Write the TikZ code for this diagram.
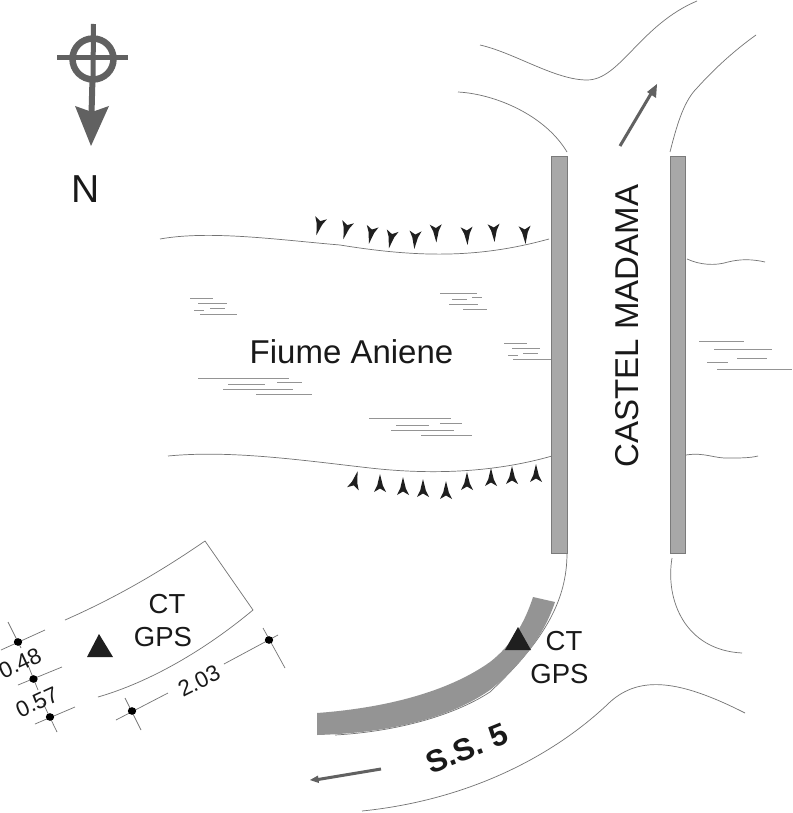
\documentclass[tikz,border=0pt]{standalone}
\usepackage{fontspec}
\setmainfont{Liberation Sans}
\definecolor{symbolgray}{gray}{0.38}
\tikzset{
  x=1pt,y=-1pt,
  thin line/.style={draw=black!55,line width=0.7pt},
  water/.style={draw=black!42,line width=0.8pt},
  bridge/.style={fill=black!34,draw=black!52,line width=0.9pt},
  marker/.style={fill=black!88,draw=none},
  label/.style={inner sep=0pt,text=black!90},
}
\newcommand{\hachure}[3]{\fill[black!88,shift={(#1,#2)},rotate=#3] (0,10) -- (-2.8,-1.5) -- (-6,-8) -- (0,-4.5) -- (6,-8) -- (2.8,-1.5) -- cycle;}
\newcommand{\wlines}[1]{\foreach \a/\b/\c in {#1} \draw[water] (\a,\c) -- (\b,\c);}
\newcommand{\dimdot}[2]{\fill[black] (#1,#2) ellipse (4.2 and 3.8);}
\begin{document}
\begin{tikzpicture}
\useasboundingbox (0,0) rectangle (792,813);
\fill[white] (0,0) rectangle (792,813);
% north symbol
\draw[symbolgray,line width=5pt] (93.5,24) -- (93,80);
\draw[symbolgray,line width=5pt] (57,58) -- (128,58);
\draw[symbolgray,line width=6.5pt] (93,59) circle (20.5);
\draw[symbolgray,line width=6pt] (92.5,78) -- (91.5,114);
\fill[symbolgray] (75,106) -- (92,112) -- (109,106) -- (91,146) -- cycle;
\node[label,font=\fontsize{39}{39}\selectfont] (north) at (85.5,189) {N};
% roads
\draw[thin line] (480,45) .. controls (515,53) and (555,80) .. (587,80) .. controls (620,80) and (640,25) .. (697,1);
\draw[thin line] (458,92) .. controls (495,94) and (545,115) .. (567,152);
\draw[thin line] (670,152) .. controls (678,120) and (685,100) .. (697,88) .. controls (715,68) and (735,50) .. (756,35);
\draw[thin line] (567,553) .. controls (567,600) and (545,640) .. (490,692) .. controls (450,718) and (390,732) .. (335,735);
\draw[thin line] (362,811) .. controls (470,800) and (555,755) .. (610,702) .. controls (640,675) and (680,680) .. (745,713);
\draw[thin line] (672,558) .. controls (665,600) and (685,650) .. (742,653);
% river banks
\draw[thin line] (160,239) .. controls (210,230) and (280,240) .. (340,245) .. controls (420,258) and (480,258) .. (549,239);
\draw[thin line] (168,456) .. controls (230,450) and (300,460) .. (370,468) .. controls (450,477) and (510,468) .. (552,456);
% side stubs right
\draw[thin line] (687,259) .. controls (700,265) and (715,266) .. (728,262) .. controls (740,259) and (752,259) .. (765,262);
\draw[thin line] (686,455) .. controls (705,452) and (715,459) .. (730,458) .. controls (740,458) and (750,458) .. (758,456);
% water lines
\wlines{190/213/298,198/227/303,210/225/308,194/204/310,200/237/314,
440/477/293,472/482/297,452/467/299,449/478/304,463/487/309,
504/527/343,512/540/348,523/538/353,508/518/355,513/551/359,
198/289/378,277/302/382,228/265/384,223/293/389,256/312/394,
369/451/418,440/462/423,396/429/425,391/454/430,421/472/435,
699/744/341,714/772/349,737/767/358,707/728/362,717/792/369}
% hachures top
\hachure{319}{225.5}{-15}
\hachure{346}{229.5}{-15}
\hachure{371}{234}{-12}
\hachure{391}{238.5}{-12}
\hachure{415}{239}{-4}
\hachure{436}{232.5}{2}
\hachure{467}{235}{3}
\hachure{494}{232}{3}
\hachure{525}{234}{3}
% hachures bottom
\hachure{355}{481}{165}
\hachure{380}{484}{180}
\hachure{403}{487}{180}
\hachure{423}{489}{180}
\hachure{446}{491}{180}
\hachure{467}{482}{180}
\hachure{491}{478}{180}
\hachure{512}{476}{180}
\hachure{536}{474}{180}
% bridge
\path[bridge] (551.5,156) rectangle (567,553);
\path[bridge] (670,156) rectangle (685.5,553);
% curved road band
\fill[black!42] (533,597) -- (555,602) .. controls (545,632) and (525,662) .. (490,690) .. controls (450,718) and (390,733) .. (317,735) -- (317,713) .. controls (385,708) and (448,692) .. (490,662) .. controls (512,645) and (525,622) .. cycle;
% arrows
\draw[symbolgray,line width=3pt] (620,146) -- (652,92);
\fill[symbolgray] (657,84) -- (656,98) -- (647,92) -- cycle;
\draw[symbolgray,line width=3pt] (381,769) -- (318,779.5);
\fill[symbolgray] (310,780) -- (318,775.5) -- (319,783) -- cycle;
% texts
\node[label,font=\fontsize{33}{33}\selectfont] (river) at (351.5,352) {Fiume Aniene};
\node[label,rotate=90,font=\fontsize{33}{33}\selectfont] (town) at (627,326) {CASTEL MADAMA};
\node[label,rotate=22,font=\bfseries\fontsize{31}{31}\selectfont] (road) at (467,748) {S.S.\,\,5};
% CT GPS on band
\fill[marker] (518,627) -- (531,650) -- (505,650) -- cycle;
\node[label,font=\fontsize{27.5}{27.5}\selectfont] (ct1) at (564,641) {CT};
\node[label,font=\fontsize{27.5}{27.5}\selectfont] (gps1) at (559.5,674) {GPS};
% detail box
\draw[thin line] (65,620) .. controls (115,598) and (160,572) .. (205,541) -- (253,610) .. controls (205,650) and (150,682) .. (98,697);
\fill[marker] (99,634) -- (113,657) -- (87,657) -- cycle;
\node[label,font=\fontsize{27.5}{27.5}\selectfont] (ct2) at (167,604) {CT};
\node[label,font=\fontsize{27.5}{27.5}\selectfont] (gps2) at (163,637) {GPS};
% dimension lines
\draw[thin line] (8,622) -- (21,648);
\draw[thin line] (28,665) -- (38,690);
\draw[thin line] (43,703) -- (57,732);
\draw[thin line] (125,698) -- (141,730);
\draw[thin line] (263,628) -- (285,668);
\draw[thin line] (1,650) -- (45,630);
\draw[thin line] (18,685) -- (62,667);
\draw[thin line] (35,724) -- (75,707);
\draw[thin line] (116,720) -- (168,693);
\draw[thin line] (224,664) -- (278,635);
\dimdot{18}{642}
\dimdot{33.5}{679}
\dimdot{50}{717}
\dimdot{132}{711}
\dimdot{269}{640}
\node[label,rotate=25,font=\fontsize{22.5}{22.5}\selectfont] (d1) at (20,663) {0.48};
\node[label,rotate=25,font=\fontsize{22.5}{22.5}\selectfont] (d2) at (37,702) {0.57};
\node[label,rotate=27,font=\fontsize{22.5}{22.5}\selectfont] (d3) at (199,681) {2.03};
\end{tikzpicture}
\end{document}
